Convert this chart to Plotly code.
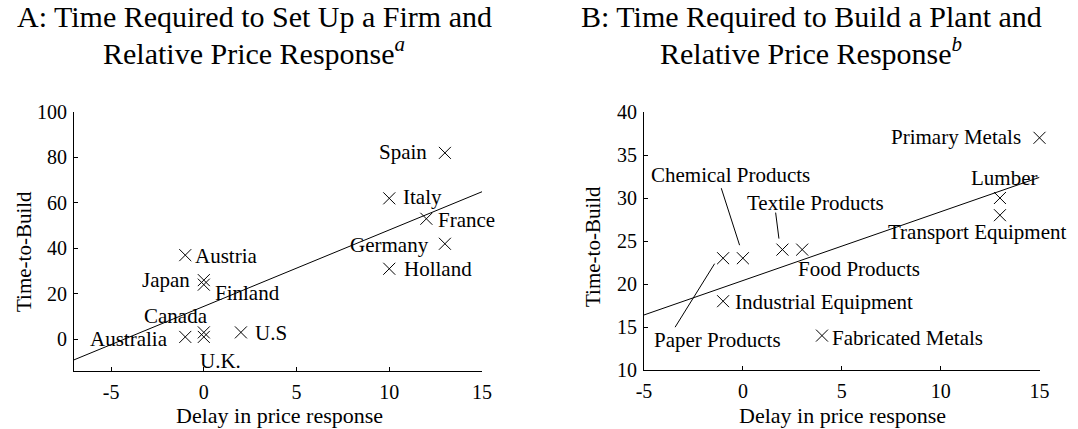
import plotly.graph_objects as go

W, H = 1078, 429

# ---------------- data ----------------
# Panel A: countries
countries = ["Spain", "Italy", "France", "Germany", "Holland", "Austria",
             "Japan", "Finland", "Canada", "Australia", "U.S", "U.K."]
a_delay = [13, 10, 12, 13, 10, -1, 0, 0, 0, -1, 2, 0]
a_ttb = [82, 62, 53, 42, 31, 37, 26, 24, 3, 1, 3, 1]
a_fit_x = [-7, 15]
a_fit_y = [-9.1, 64.9]
a_xticks = [-5, 0, 5, 10, 15]
a_xticklabels = ["-5", "0", "5", "10", "15"]
a_yticks = [0, 20, 40, 60, 80, 100]
a_yticklabels = ["0", "20", "40", "60", "80", "100"]

# Panel B: industries
industries = ["Paper Products", "Chemical Products", "Textile Products",
              "Food Products", "Industrial Equipment", "Fabricated Metals",
              "Primary Metals", "Lumber", "Transport Equipment"]
b_delay = [-1, 0, 2, 3, -1, 4, 15, 13, 13]
b_ttb = [23, 23, 24, 24, 18, 14, 37, 30, 28]
b_fit_x = [-5, 15]
b_fit_y = [16.4, 32.4]
b_xticks = [-5, 0, 5, 10, 15]
b_xticklabels = ["-5", "0", "5", "10", "15"]
b_yticks = [10, 15, 20, 25, 30, 35, 40]
b_yticklabels = ["10", "15", "20", "25", "30", "35", "40"]

title_a = ["A: Time Required to Set Up a Firm and", "Relative Price Response<sup><i>a</i></sup>"]
title_b = ["B: Time Required to Build a Plant and", "Relative Price Response<sup><i>b</i></sup>"]
x_title = "Delay in price response"
y_title = "Time-to-Build"

# ---------------- layout/style (pixel placement) ----------------
FONT = "Liberation Serif"
FS_TICK = 20
FS_LABEL = 21
FS_XT = 22
FS_YT = 21
TFONT = "Liberation Serif"
TFS = 30

# label placement: (xanchor, xshift px, yshift px)
a_label_pos = {
    "Spain": ("right", -16, 1), "Italy": ("left", 12, 1), "France": ("left", 10, -1),
    "Germany": ("right", -14, -1), "Holland": ("left", 13, 0), "Austria": ("left", 8, -1),
    "Japan": ("right", -12, 0), "Finland": ("left", 9, -8), "Canada": ("center", -28, 16),
    "Australia": ("right", -15, -2), "U.S": ("left", 12, -1), "U.K.": ("center", 17, -24),
}
b_label_pos = {
    "Paper Products": ("left", -71, -82), "Chemical Products": ("left", -94, 83),
    "Textile Products": ("left", -37, 47), "Food Products": ("left", -6, -19),
    "Industrial Equipment": ("left", 10, -1), "Fabricated Metals": ("left", 8, -2),
    "Primary Metals": ("right", -17, 1), "Lumber": ("center", 4, 20),
    "Transport Equipment": ("center", -23, -17),
}
# leader lines relative to point: (x0, y0, x1, y1) px, y up
b_leaders = {
    "Paper Products": (-48, -69, -8.5, -5.5),
    "Chemical Products": (-21.6, 70, -3.3, 13),
    "Textile Products": (-6.8, 37, -3.5, 11),
}


def px(x):
    return x / W


def py(y):
    return 1 - y / H


fig = go.Figure()

marker = dict(symbol="x-thin", size=12, color="black", line=dict(width=1, color="black"))

fig.add_trace(go.Scatter(x=a_fit_x, y=a_fit_y, mode="lines", line=dict(color="black", width=1),
                         xaxis="x", yaxis="y", showlegend=False, hoverinfo="skip"))
fig.add_trace(go.Scatter(x=a_delay, y=a_ttb, mode="markers", marker=marker, text=countries,
                         xaxis="x", yaxis="y", showlegend=False, cliponaxis=False))
fig.add_trace(go.Scatter(x=b_fit_x, y=b_fit_y, mode="lines", line=dict(color="black", width=1),
                         xaxis="x2", yaxis="y2", showlegend=False, hoverinfo="skip"))
fig.add_trace(go.Scatter(x=b_delay, y=b_ttb, mode="markers", marker=marker, text=industries,
                         xaxis="x2", yaxis="y2", showlegend=False, cliponaxis=False))

annotations = []
for name, x, y in zip(countries, a_delay, a_ttb):
    xa, xs, ys = a_label_pos[name]
    annotations.append(dict(x=x, y=y, xref="x", yref="y", text=name, showarrow=False,
                            xanchor=xa, yanchor="middle", xshift=xs, yshift=ys,
                            font=dict(family=FONT, size=FS_LABEL, color="black")))
for name, x, y in zip(industries, b_delay, b_ttb):
    xa, xs, ys = b_label_pos[name]
    annotations.append(dict(x=x, y=y, xref="x2", yref="y2", text=name, showarrow=False,
                            xanchor=xa, yanchor="middle", xshift=xs, yshift=ys,
                            font=dict(family=FONT, size=FS_LABEL, color="black")))

shapes = []
for name, x, y in zip(industries, b_delay, b_ttb):
    if name in b_leaders:
        x0, y0, x1, y1 = b_leaders[name]
        shapes.append(dict(type="line", xref="x2", yref="y2", xsizemode="pixel", ysizemode="pixel",
                           xanchor=x, yanchor=y, x0=x0, y0=y0, x1=x1, y1=y1,
                           line=dict(color="black", width=1)))

# titles
for lines, cx in ((title_a, 254), (title_b, 811)):
    for line, cy in zip(lines, (17, 51)):
        annotations.append(dict(x=px(cx), y=py(cy), xref="paper", yref="paper", text=line,
                                showarrow=False, xanchor="center", yanchor="middle", borderpad=0,
                                font=dict(family=TFONT, size=TFS, color="black")))

# axis titles
for cx, cy in ((279, 415), (842.5, 415)):
    annotations.append(dict(x=px(cx), y=py(cy), xref="paper", yref="paper", text=x_title,
                            showarrow=False, xanchor="center", yanchor="middle", borderpad=0,
                            font=dict(family=FONT, size=FS_XT, color="black")))
for cx, cy in ((24, 252), (593, 247)):
    annotations.append(dict(x=px(cx), y=py(cy), xref="paper", yref="paper", text=y_title,
                            showarrow=False, xanchor="center", yanchor="middle", textangle=-90,
                            font=dict(family=FONT, size=FS_YT, color="black")))

axis_common = dict(showgrid=False, zeroline=False, showline=True, linecolor="black", linewidth=1,
                   ticks="inside", ticklen=4, tickcolor="black", tickwidth=1,
                   tickfont=dict(family=FONT, size=FS_TICK, color="black"), automargin=False)

fig.update_layout(
    width=W, height=H,
    margin=dict(l=0, r=0, t=0, b=0),
    paper_bgcolor="white", plot_bgcolor="white",
    xaxis=dict(domain=[px(74), px(482)], range=[-7, 15], tickvals=a_xticks, ticktext=a_xticklabels,
               anchor="y", ticklabelstandoff=3, **axis_common),
    yaxis=dict(domain=[py(371), py(112)], range=[-14, 100], tickvals=a_yticks, ticktext=a_yticklabels,
               anchor="x", ticklabelstandoff=2, **axis_common),
    xaxis2=dict(domain=[px(644), px(1039.5)], range=[-5, 15], tickvals=b_xticks, ticktext=b_xticklabels,
                anchor="y2", ticklabelstandoff=3, **axis_common),
    yaxis2=dict(domain=[py(370), py(112)], range=[10, 40], tickvals=b_yticks, ticktext=b_yticklabels,
                anchor="x2", ticklabelstandoff=2, **axis_common),
    annotations=annotations,
    shapes=shapes,
    showlegend=False,
)

fig.write_html("out.html", config={"displayModeBar": False},
               post_script="document.body.style.margin='0px';document.body.style.overflow='hidden';")
